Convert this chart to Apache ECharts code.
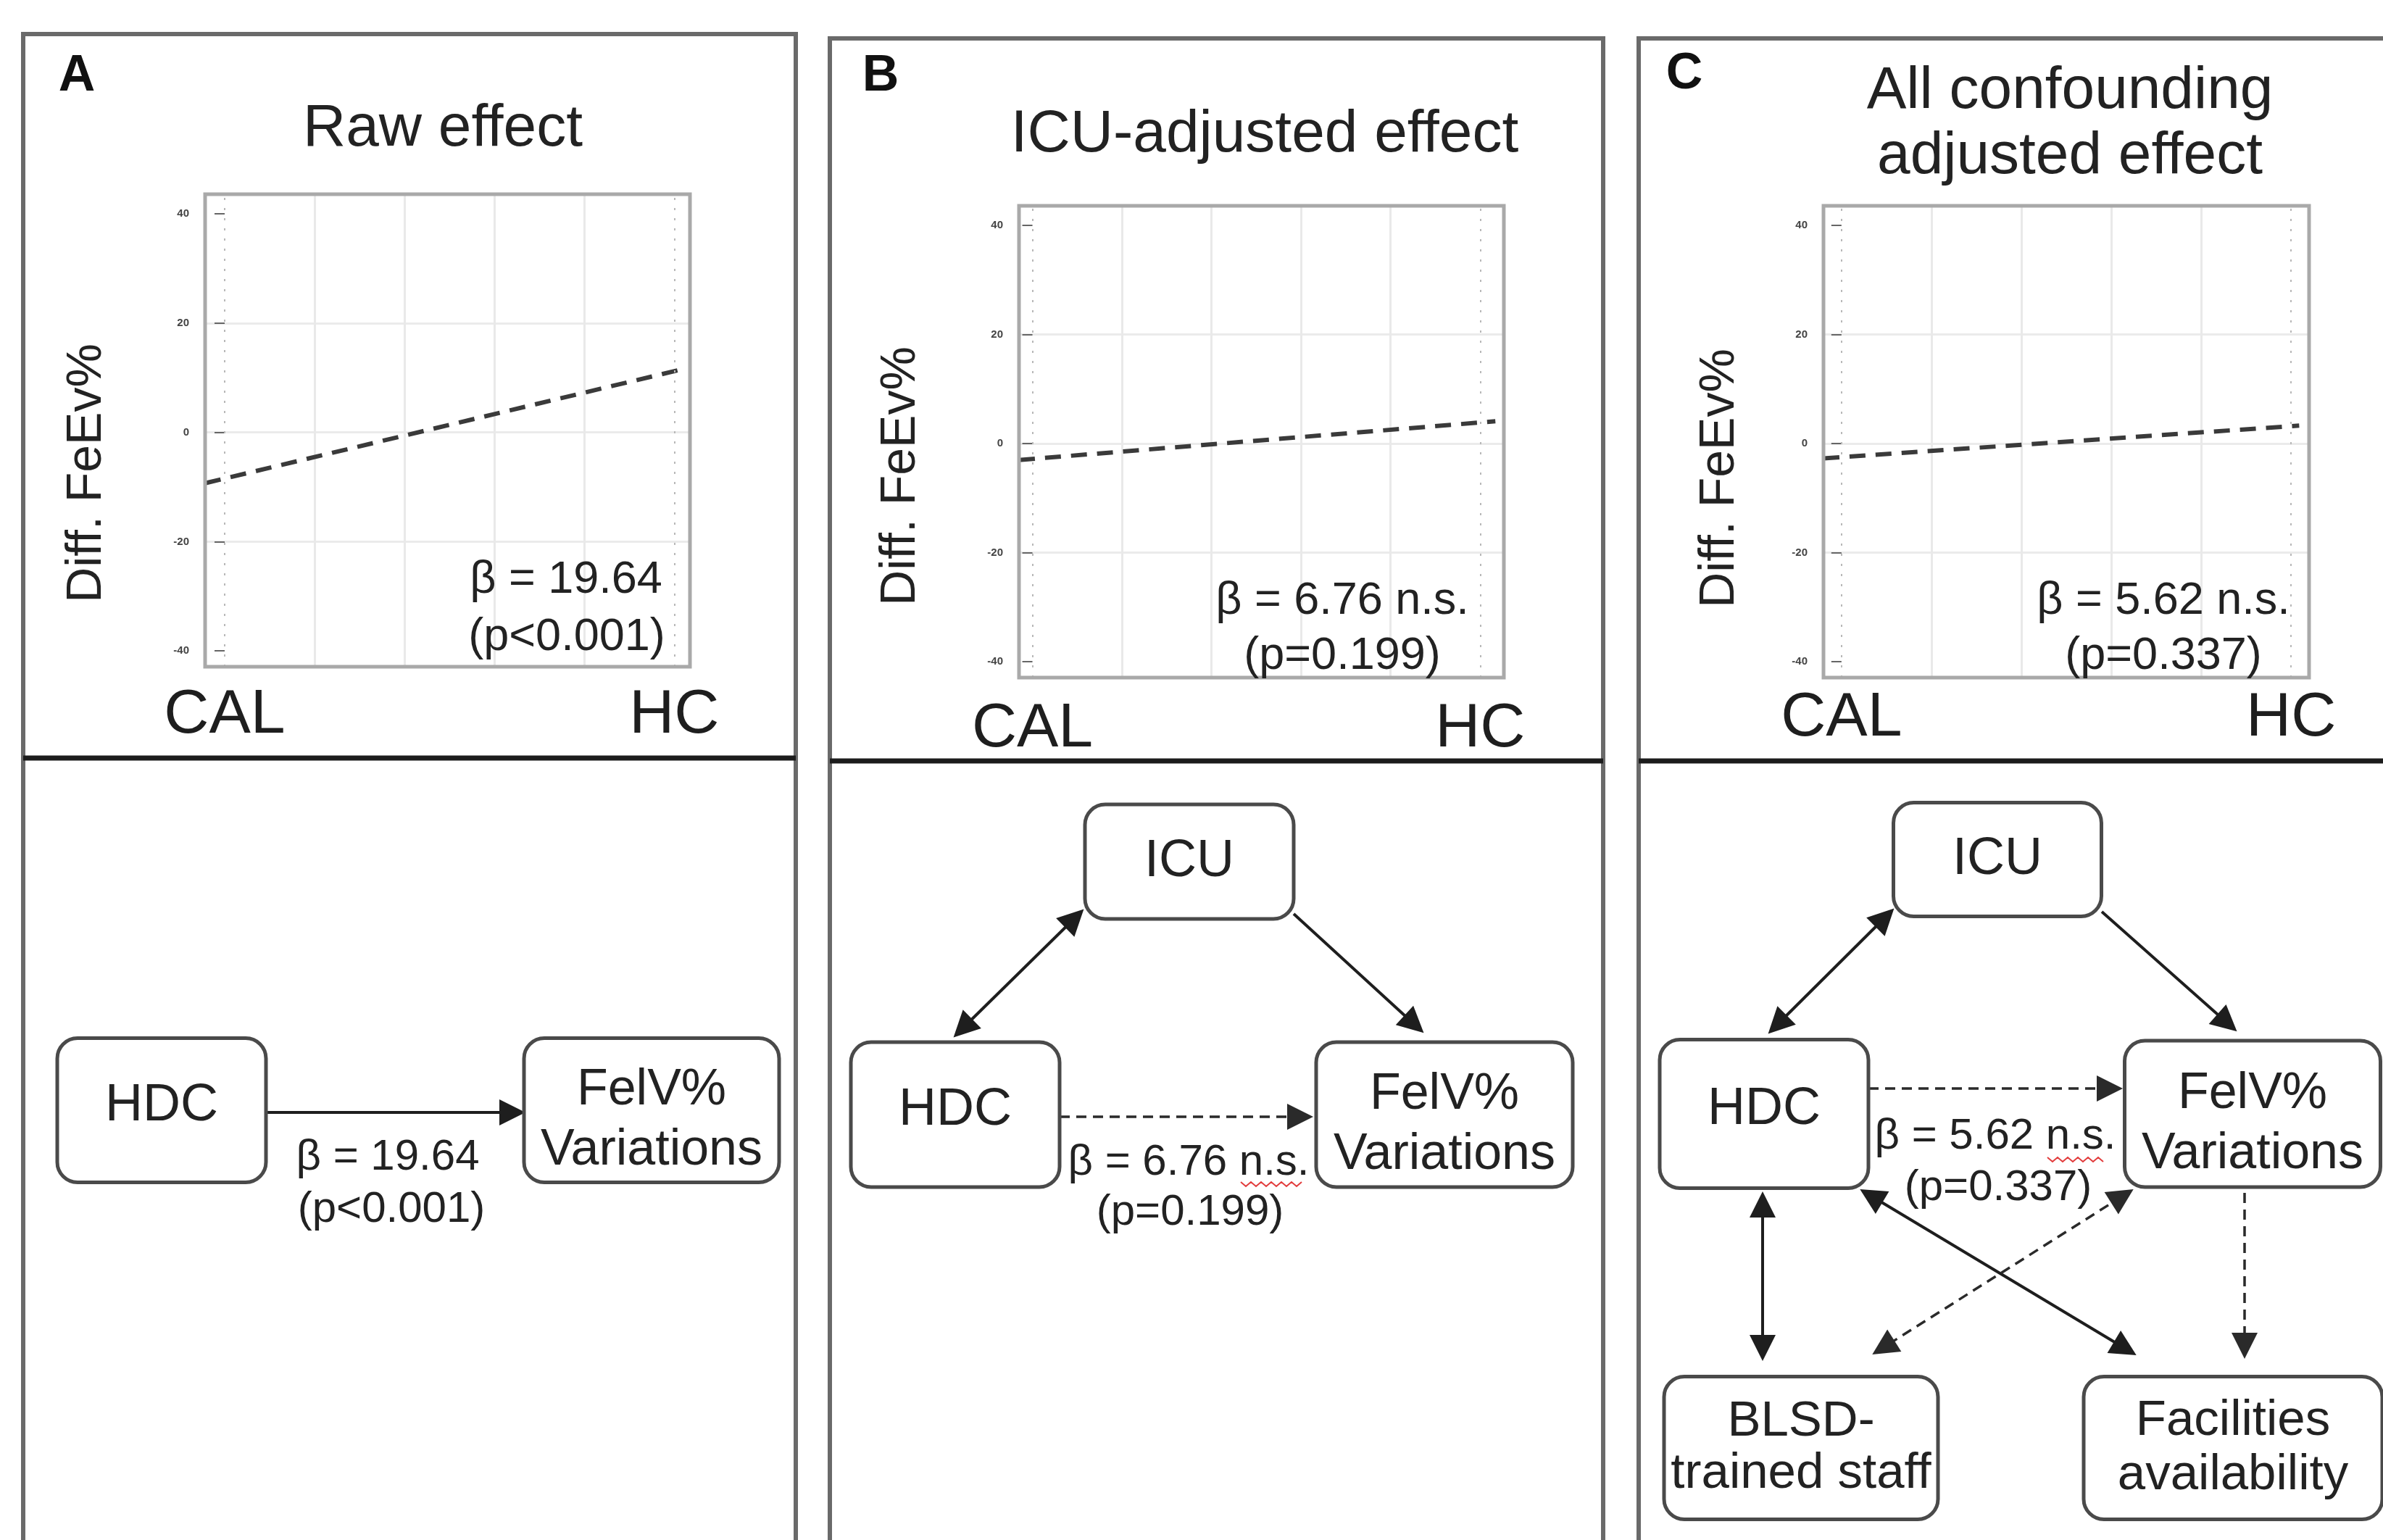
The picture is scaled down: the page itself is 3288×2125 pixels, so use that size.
<!DOCTYPE html>
<html><head><meta charset="utf-8">
<script src="https://cdn.jsdelivr.net/npm/echarts@6/dist/echarts.min.js"></script>
<style>html,body{margin:0;padding:0;background:#fff}#c{width:3288px;height:2125px}</style>
</head><body><div id="c"></div>
<script>
const FONT = '"Liberation Sans", Arial, Helvetica, sans-serif';

// ---------------- data ----------------
const xCategories = ['CAL', 'HC'];            // plotted at x = 0 and x = 1
const xGridValues = [0, 0.2, 0.4, 0.6, 0.8, 1];
const yTicks = [-40, -20, 0, 20, 40];
const yRange = [-42.9, 43.6];
const xRanges = [[-0.0435, 1.035], [-0.03, 1.053], [-0.04, 1.04]];
const panelLetters = ['A', 'B', 'C'];
const panelTitles = [['Raw effect'], ['ICU-adjusted effect'], ['All confounding', 'adjusted effect']];
const yAxisName = 'Diff. FeEv%';
// fitted regression lines [x, Diff. FeEv%]
const fitRaw = [[-0.0435, -9.3], [1.02, 11.6]];
const fitICU = [[-0.03, -3.0], [1.034, 4.1]];
const fitAll = [[-0.04, -2.7], [1.018, 3.3]];
const fits = [fitRaw, fitICU, fitAll];
const betaLabels = ['β = 19.64', 'β = 6.76 n.s.', 'β = 5.62 n.s.'];
const pLabels = ['(p<0.001)', '(p=0.199)', '(p=0.337)'];

// causal diagrams (diagram units = canvas px)
const nodeLabels = ['HDC', 'FelV%\nVariations',
  'ICU', 'HDC', 'FelV%\nVariations',
  'ICU', 'HDC', 'FelV%\nVariations', 'BLSD-\ntrained staff', 'Facilities\navailability'];
const nodeCenters = [[223, 1532], [899, 1532],
  [1641, 1189], [1318, 1538], [1993, 1538],
  [2756, 1186], [2434, 1537], [3108, 1537], [2485, 1998], [3081, 1998]];
const nodeSizes = [[288, 199], [352, 199],
  [288, 158], [288, 200], [354, 200],
  [287, 157], [288, 205], [353, 202], [378, 197], [412, 197]];
const solidOneWay = [
  [[367, 1535], [723, 1535]],
  [[1785, 1261], [1963, 1424]],
  [[2900, 1258], [3085, 1422]]];
const solidTwoWay = [
  [[1494, 1256], [1317, 1430]],
  [[2612, 1255], [2441, 1425]],
  [[2432, 1646], [2432, 1876]],
  [[2568, 1642], [2946, 1869]]];
const dashedOneWay = [
  [[1462, 1541], [1810, 1541]],
  [[2578, 1502], [2927, 1502]],
  [[3097, 1646], [3097, 1873]]];
const dashedTwoWay = [
  [[2942, 1642], [2585, 1868]]];
const edgeBeta = ['β = 19.64', 'β = 6.76 n.s.', 'β = 5.62 n.s.'];
const edgeP = ['(p<0.001)', '(p=0.199)', '(p=0.337)'];

// ---------------- layout ----------------
const plotBoxes = [[283, 268, 669, 652], [1406, 284, 669, 651], [2516, 284, 670, 651]];
const xLabelMargin = [24, 28, 13];
const yNamePos = [[120, 653], [1243, 657], [2373, 660]];
const letterPos = [[106, 106], [1215, 106], [2324, 103]];
const titlePos = [[[611, 178]], [[1745, 186]], [[2856, 126], [2856, 216]]];
const betaPos = [[781, 801], [1852, 830], [2985, 830]];
const pPos = [[782, 880], [1852, 906], [2985, 906]];
const edgeBetaPos = [[535, 1597], [1640, 1604], [2753, 1568]];
const edgePPos = [[540, 1669], [1642, 1673], [2757, 1639]];
const frames = [[32, 47, 1066, 1046], [1145, 53, 1067, 1050], [2261, 53, 1200, 1050]];
const nodeFont = [72, 70, 72, 72, 70, 72, 72, 70, 69, 69];
const nodeLH = [0, 83, 0, 0, 83, 0, 0, 83, 72, 75];
const nodeDy = [-6, 14, 0, -6, 14, 0, -6, 14, 0, 0];

const AH = 36;
function pull(p, q, d) {
  const dx = q[0] - p[0], dy = q[1] - p[1], L = Math.hypot(dx, dy);
  return [q[0] - dx / L * d, q[1] - dy / L * d];
}
const oneWay = e => ({ coords: [e[0], pull(e[0], e[1], AH / 2 - 2)] });
const twoWay = e => ({ coords: [pull(e[1], e[0], AH / 2 - 2), pull(e[0], e[1], AH / 2 - 2)] });

function txt(text, pos, size, extra) {
  return Object.assign({
    type: 'text', x: pos[0], y: pos[1], z: 100,
    style: {
      text: text, fontSize: size, fontFamily: FONT, fill: '#222',
      textAlign: 'center', textVerticalAlign: 'middle', align: 'center', verticalAlign: 'middle'
    }
  }, extra || {});
}
function zigzag(x0, x1, y) {
  const pts = []; let k = 0;
  for (let x = x0; x <= x1; x += 7) { pts.push([x, y + (k % 2 ? 3 : -3)]); k++; }
  return { type: 'polyline', z: 100, shape: { points: pts }, style: { stroke: '#e23b3b', lineWidth: 2, fill: 'none' } };
}

// ---------------- option ----------------
const grids = [], xAxes = [], yAxes = [], series = [], graphic = [];
plotBoxes.forEach((b, i) => {
  grids.push({ left: b[0], top: b[1], width: b[2], height: b[3], show: false });
  xAxes.push({
    gridIndex: i, type: 'value', min: xRanges[i][0], max: xRanges[i][1],
    axisLine: { show: false },
    axisTick: { show: false, customValues: xGridValues },
    splitLine: { show: true, showMinLine: false, showMaxLine: false, lineStyle: { color: '#e9e9e9', width: 3 } },
    axisLabel: {
      customValues: [0, 1], fontSize: 86, fontFamily: FONT, color: '#1e1e1e', margin: xLabelMargin[i],
      formatter: v => Math.abs(v) < 1e-9 ? xCategories[0] : (Math.abs(v - 1) < 1e-9 ? xCategories[1] : '')
    }
  });
  yAxes.push({
    gridIndex: i, type: 'value', min: yRange[0], max: yRange[1],
    axisLine: { show: false },
    axisTick: { show: true, customValues: yTicks, length: 14, lineStyle: { color: '#666', width: 2 } },
    splitLine: { show: true, showMinLine: false, showMaxLine: false, lineStyle: { color: '#ebebeb', width: 3 } },
    axisLabel: {
      customValues: yTicks, fontSize: 15, fontWeight: 'bold', fontFamily: FONT, color: '#444', margin: 22,
      formatter: v => (Math.abs(v % 20) < 1e-9 ? String(v) : '')
    }
  });
  series.push({
    type: 'line', xAxisIndex: i, yAxisIndex: i, data: fits[i], symbol: 'none', showSymbol: false,
    lineStyle: { color: '#3a3a3a', width: 6, type: [22, 14] }, z: 3, silent: true,
    markLine: {
      silent: true, symbol: ['none', 'none'], label: { show: false },
      lineStyle: { color: '#b8b8b8', width: 2, type: [3, 11] },
      data: xCategories.map((c, k) => ({ xAxis: k }))
    }
  });
  graphic.push({ type: 'rect', z: 90, shape: { x: b[0], y: b[1], width: b[2], height: b[3] },
    style: { fill: 'none', stroke: '#a9a9a9', lineWidth: 5 } });
});

// diagram coordinate system over the whole canvas
grids.push({ left: 0, top: 0, width: 3288, height: 2125, show: false });
xAxes.push({ gridIndex: 3, type: 'value', min: 0, max: 3288, show: false });
yAxes.push({ gridIndex: 3, type: 'value', min: 0, max: 2125, inverse: true, show: false });

const edgeCommon = {
  type: 'lines', coordinateSystem: 'cartesian2d', xAxisIndex: 3, yAxisIndex: 3,
  symbolSize: AH, silent: true, z: 4
};
series.push(Object.assign({}, edgeCommon, { symbol: ['none', 'triangle'],
  lineStyle: { color: '#1e1e1e', width: 4, opacity: 1, curveness: 0 }, itemStyle: { color: '#1e1e1e' },
  data: solidOneWay.map(oneWay) }));
series.push(Object.assign({}, edgeCommon, { symbol: ['triangle', 'triangle'],
  lineStyle: { color: '#1e1e1e', width: 4, opacity: 1, curveness: 0 },
  data: solidTwoWay.map(twoWay) }));
series.push(Object.assign({}, edgeCommon, { symbol: ['none', 'triangle'],
  lineStyle: { color: '#2a2a2a', width: 3.5, opacity: 1, type: [14, 9], curveness: 0 },
  data: dashedOneWay.map(oneWay) }));
series.push(Object.assign({}, edgeCommon, { symbol: ['triangle', 'triangle'],
  lineStyle: { color: '#2a2a2a', width: 3.5, opacity: 1, type: [14, 9], curveness: 0 },
  data: dashedTwoWay.map(twoWay) }));

series.push({
  type: 'custom', coordinateSystem: 'cartesian2d', xAxisIndex: 3, yAxisIndex: 3,
  data: nodeCenters.map((c, i) => [c[0], c[1], nodeSizes[i][0], nodeSizes[i][1]]),
  encode: { x: 0, y: 1 }, clip: false, z: 5, silent: true,
  renderItem: (params, api) => {
    const i = params.dataIndex;
    const c = api.coord([api.value(0), api.value(1)]);
    const s = api.size([api.value(2), api.value(3)], [api.value(0), api.value(1)]);
    const st = {
      text: nodeLabels[i], fontSize: nodeFont[i], fontFamily: FONT, fill: '#222',
      textAlign: 'center', textVerticalAlign: 'middle', align: 'center', verticalAlign: 'middle'
    };
    if (nodeLH[i]) st.lineHeight = nodeLH[i];
    return {
      type: 'group', children: [
        { type: 'rect', shape: { x: c[0] - s[0] / 2, y: c[1] - s[1] / 2, width: s[0], height: s[1], r: 28 },
          style: { fill: '#fff', stroke: '#4a4a4a', lineWidth: 5 } },
        { type: 'text', x: c[0], y: c[1] + nodeDy[i], style: st }
      ]
    };
  }
});

// panel frames
frames.forEach((f, i) => {
  graphic.push({ type: 'rect', z: 95, shape: { x: f[0], y: f[1], width: f[2], height: 2300 },
    style: { fill: 'none', stroke: '#6a6a6a', lineWidth: 6 } });
  graphic.push({ type: 'line', z: 96, shape: { x1: f[0], y1: f[3], x2: f[0] + f[2], y2: f[3] },
    style: { stroke: '#1c1c1c', lineWidth: 7 } });
});
// texts
panelLetters.forEach((l, i) => {
  graphic.push(txt(l, letterPos[i], 70, {}));
  graphic[graphic.length - 1].style.fontWeight = 'bold';
  graphic[graphic.length - 1].style.fill = '#111';
  panelTitles[i].forEach((t, k) => graphic.push(txt(t, titlePos[i][k], 82)));
  graphic.push(txt(yAxisName, yNamePos[i], 68, { rotation: Math.PI / 2 }));
  graphic.push(txt(betaLabels[i], betaPos[i], 63));
  graphic.push(txt(pLabels[i], pPos[i], 63));
  graphic.push(txt(edgeBeta[i], edgeBetaPos[i], 60));
  graphic.push(txt(edgeP[i], edgePPos[i], 60));
});
graphic.push(zigzag(1712, 1798, 1634));
graphic.push(zigzag(2825, 2908, 1600));

const chart = echarts.init(document.getElementById('c'), null, { renderer: 'canvas' });
chart.setOption({
  animation: false,
  backgroundColor: '#ffffff',
  grid: grids, xAxis: xAxes, yAxis: yAxes, series: series,
  graphic: { elements: graphic }
});
</script>
</body></html>
